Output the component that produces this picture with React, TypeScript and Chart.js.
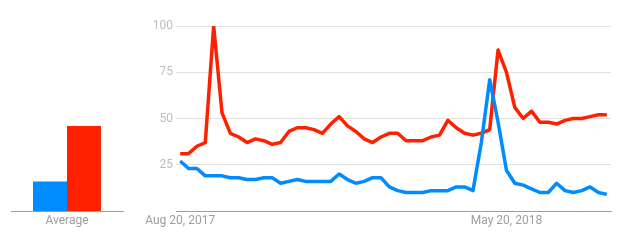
import React, { useEffect, useRef } from "react";
import { Chart, registerables } from "chart.js";

Chart.register(...registerables);

const seriesBlueName = "Term 1";
const seriesRedName = "Term 2";

const blueValues = [
  27, 23, 23, 19, 19, 19, 18, 18, 17, 17, 18, 18, 15, 16, 17, 16, 16, 16, 16, 20,
  17, 15, 16, 18, 18, 13, 11, 10, 10, 10, 11, 11, 11, 13, 13, 11, 37, 71, 48, 22,
  15, 14, 12, 10, 10, 15, 11, 10, 11, 13, 10, 9,
];

const redValues = [
  31, 31, 35, 37, 100, 53, 42, 40, 37, 39, 38, 36, 37, 43, 45, 45, 44, 42, 47, 51,
  46, 43, 39, 37, 40, 42, 42, 38, 38, 38, 40, 41, 49, 45, 42, 41, 42, 44, 87, 75,
  56, 50, 54, 48, 48, 47, 49, 50, 50, 51, 52, 52,
];

const averageLabels = ["Average"];
const blueAverage = [16];
const redAverage = [46];

const yTicks = [25, 50, 75, 100];
const shownDateLabels = ["Aug 20, 2017", "May 20, 2018"];

// weekly dates starting Aug 20, 2017
const dateLabels: string[] = (() => {
  const out: string[] = [];
  const months = ["Jan", "Feb", "Mar", "Apr", "May", "Jun", "Jul", "Aug", "Sep", "Oct", "Nov", "Dec"];
  const start = new Date(2017, 7, 20);
  for (let i = 0; i < redValues.length; i++) {
    const d = new Date(start.getFullYear(), start.getMonth(), start.getDate() + 7 * i);
    out.push(`${months[d.getMonth()]} ${d.getDate()}, ${d.getFullYear()}`);
  }
  return out;
})();

const BLUE = "#008cff";
const RED = "#ff2000";
const FONT = "Roboto";

export default function App() {
  const leftRef = useRef<HTMLCanvasElement>(null);
  const mainRef = useRef<HTMLCanvasElement>(null);

  useEffect(() => {
    const left = new Chart(leftRef.current!, {
      type: "bar",
      data: {
        labels: averageLabels,
        datasets: [
          { label: seriesBlueName, data: blueAverage, backgroundColor: BLUE, borderWidth: 0 },
          { label: seriesRedName, data: redAverage, backgroundColor: RED, borderWidth: 0 },
        ],
      },
      options: {
        animation: false,
        responsive: false,
        maintainAspectRatio: false,
        layout: { padding: { left: 11, right: 17, top: 26, bottom: 0 } },
        plugins: { legend: { display: false }, tooltip: { enabled: false } },
        datasets: { bar: { categoryPercentage: 0.607, barPercentage: 1 } },
        scales: {
          x: {
            grid: { display: false, drawTicks: false },
            border: { display: true, color: "#9e9e9e", width: 1 },
            ticks: { color: "#9e9e9e", font: { family: FONT, size: 12 }, padding: 3 },
            afterFit: (s: any) => { s.height = 34; },
          },
          y: {
            display: false,
            min: 0,
            max: 100,
          },
        },
      },
    } as any);

    const main = new Chart(mainRef.current!, {
      type: "line",
      data: {
        labels: dateLabels,
        datasets: [
          {
            label: seriesBlueName,
            data: blueValues,
            borderColor: BLUE,
            borderWidth: 3.5,
            pointRadius: 0,
            tension: 0,
            borderJoinStyle: "round",
            fill: false,
          },
          {
            label: seriesRedName,
            data: redValues,
            borderColor: RED,
            borderWidth: 3.5,
            pointRadius: 0,
            tension: 0,
            borderJoinStyle: "round",
            fill: false,
          },
        ],
      },
      options: {
        animation: false,
        responsive: false,
        maintainAspectRatio: false,
        layout: { padding: { left: 0, right: 17, top: 26, bottom: 0 } },
        plugins: { legend: { display: false }, tooltip: { enabled: false } },
        scales: {
          x: {
            offset: true,
            grid: { display: false, drawTicks: false },
            border: { display: true, color: "#9e9e9e", width: 1 },
            ticks: {
              autoSkip: false,
              maxRotation: 0,
              color: "#9e9e9e",
              font: { family: FONT, size: 12 },
              padding: 3,
              callback: (_v: any, i: number) =>
                shownDateLabels.includes(dateLabels[i]) ? dateLabels[i] : "",
            },
            afterFit: (s: any) => { s.height = 34; },
          },
          y: {
            min: 0,
            max: 100,
            afterBuildTicks: (s: any) => {
              s.ticks = [0, ...yTicks].map((v) => ({ value: v }));
            },
            grid: {
              drawTicks: false,
              color: (ctx: any) => (ctx.tick && ctx.tick.value === 0 ? "rgba(0,0,0,0)" : "#e0e0e0"),
              lineWidth: 1,
            },
            border: { display: false },
            ticks: {
              color: "#bdbdbd",
              font: { family: FONT, size: 12 },
              padding: 3,
              callback: (v: any) => (v === 0 ? "" : String(v)),
            },
            afterFit: (s: any) => { s.width = 36; },
          },
        },
      },
    } as any);

    return () => {
      left.destroy();
      main.destroy();
    };
  }, []);

  return (
    <div style={{ position: "fixed", left: 0, top: 0, width: 628, height: 245, background: "#fff" }}>
      <canvas ref={leftRef} width={140} height={245} style={{ position: "absolute", left: 0, top: 0, width: 140, height: 245 }} />
      <canvas ref={mainRef} width={488} height={245} style={{ position: "absolute", left: 140, top: 0, width: 488, height: 245 }} />
    </div>
  );
}
